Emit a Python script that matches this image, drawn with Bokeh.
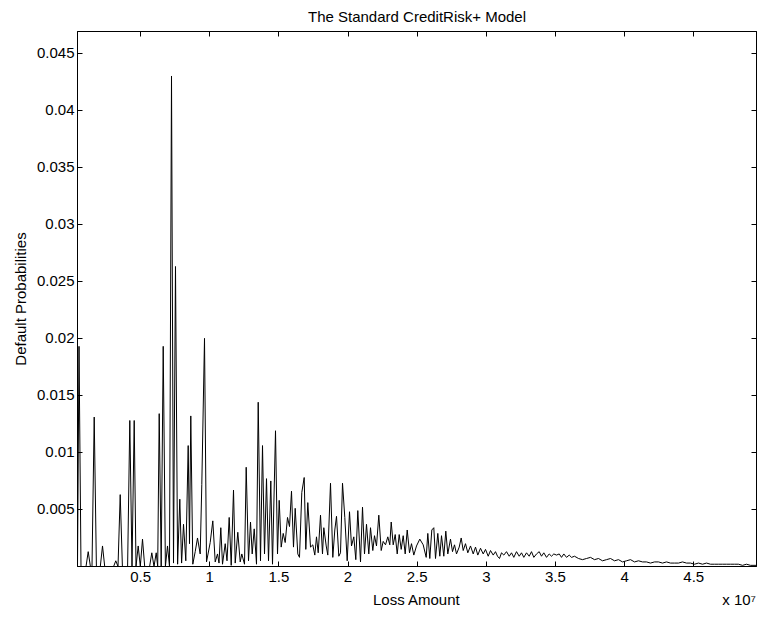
from bokeh.plotting import figure
from bokeh.models import LinearAxis, FixedTicker, Range1d, NumeralTickFormatter
from bokeh.embed import file_html
from bokeh.resources import INLINE

# Loss amount in units of 10^7
loss_amount = [
    0.0441, 0.0550, 0.0694, 0.1056, 0.1215, 0.1374, 0.1490, 0.1649, 0.1808, 0.2090,
    0.2249, 0.2408, 0.3051, 0.3210, 0.3370, 0.3529, 0.3688, 0.4064, 0.4223, 0.4382,
    0.4541, 0.4671, 0.4830, 0.4982, 0.5141, 0.5300, 0.5654, 0.5814, 0.5973, 0.6132,
    0.6240, 0.6349, 0.6493, 0.6638, 0.6797, 0.6949, 0.7093, 0.7238, 0.7383, 0.7527,
    0.7679, 0.7838, 0.7968, 0.8106, 0.8272, 0.8445, 0.8540, 0.8633, 0.8778, 0.8952,
    0.9118, 0.9313, 0.9429, 0.9624, 0.9769, 1.0036, 1.0224, 1.0398, 1.0564, 1.0673,
    1.0803, 1.0926, 1.1121, 1.1251, 1.1410, 1.1555, 1.1721, 1.1844, 1.2032, 1.2205,
    1.2321, 1.2517, 1.2639, 1.2806, 1.2950, 1.3073, 1.3218, 1.3384, 1.3507, 1.3673,
    1.3818, 1.3963, 1.4107, 1.4252, 1.4418, 1.4541, 1.4758, 1.4903, 1.5025, 1.5170,
    1.5315, 1.5459, 1.5626, 1.5770, 1.5915, 1.6059, 1.6182, 1.6370, 1.6493, 1.6660,
    1.6833, 1.6949, 1.7094, 1.7289, 1.7455, 1.7600, 1.7722, 1.7846, 1.8012, 1.8156,
    1.8250, 1.8424, 1.8540, 1.8735, 1.8901, 1.9046, 1.9169, 1.9335, 1.9458, 1.9603,
    1.9769, 1.9942, 2.0109, 2.0253, 2.0420, 2.0564, 2.0709, 2.0904, 2.1049, 2.1193,
    2.1338, 2.1504, 2.1627, 2.1793, 2.1917, 2.2061, 2.2227, 2.2401, 2.2545, 2.2712,
    2.2878, 2.3023, 2.3124, 2.3268, 2.3413, 2.3558, 2.3702, 2.3847, 2.3991, 2.4136,
    2.4281, 2.4447, 2.4592, 2.4758, 2.4953, 2.5192, 2.5437, 2.5654, 2.5770, 2.5915,
    2.6060, 2.6204, 2.6327, 2.6493, 2.6638, 2.6761, 2.6927, 2.7072, 2.7216, 2.7411,
    2.7556, 2.7701, 2.7846, 2.8041, 2.8185, 2.8330, 2.8496, 2.8663, 2.8858, 2.9053,
    2.9219, 2.9386, 2.9581, 2.9776, 2.9942, 3.0138, 3.0304, 3.0499, 3.0665, 3.0810,
    3.0955, 3.1099, 3.1266, 3.1461, 3.1656, 3.1823, 3.1989, 3.2184, 3.2379, 3.2546,
    3.2712, 3.2908, 3.3103, 3.3269, 3.3436, 3.3631, 3.3826, 3.3992, 3.4159, 3.4354,
    3.4549, 3.4716, 3.4882, 3.5077, 3.5273, 3.5439, 3.5605, 3.5801, 3.5996, 3.6162,
    3.6379, 3.6667, 3.6957, 3.7246, 3.7535, 3.7824, 3.8113, 3.8402, 3.8692, 3.8981,
    3.9270, 3.9559, 3.9848, 4.0138, 4.0427, 4.0716, 4.1005, 4.1294, 4.1584, 4.1873,
    4.2162, 4.2451, 4.2740, 4.3030, 4.3319, 4.3608, 4.3897, 4.4187, 4.4476, 4.4765,
    4.5054, 4.5343, 4.5633, 4.5922, 4.6211, 4.6500, 4.6789, 4.7079, 4.7368, 4.7657,
    4.7946, 4.8236, 4.8525, 4.8814, 4.9103, 4.9537,
]

default_prob = [
    0.0, 0.0193, 0.0, 0.0, 0.0013, 0.0, 0.0, 0.0131, 0.0, 0.0,
    0.0018, 0.0, 0.0, 0.0005, 0.0, 0.0063, 0.0, 0.0, 0.0128, 0.0,
    0.0128, 0.0, 0.0018, 0.0, 0.0024, 0.0, 0.0, 0.0012, 0.0, 0.0012,
    0.0, 0.0134, 0.0, 0.0193, 0.0, 0.0018, 0.0, 0.0430, 0.0003, 0.0263,
    0.0002, 0.0059, 0.0003, 0.0037, 0.0005, 0.0106, 0.0020, 0.0132, 0.0002, 0.0013,
    0.0025, 0.0011, 0.0072, 0.0200, 0.0004, 0.0021, 0.0040, 0.0004, 0.0011, 0.0003,
    0.0034, 0.0002, 0.0020, 0.0005, 0.0043, 0.0001, 0.0067, 0.0003, 0.0030, 0.0004,
    0.0011, 0.0002, 0.0087, 0.0005, 0.0039, 0.0011, 0.0033, 0.0002, 0.0144, 0.0005,
    0.0106, 0.0011, 0.0077, 0.0005, 0.0075, 0.0002, 0.0119, 0.0011, 0.0058, 0.0017,
    0.0029, 0.0021, 0.0043, 0.0035, 0.0066, 0.0017, 0.0051, 0.0011, 0.0008, 0.0065,
    0.0078, 0.0015, 0.0056, 0.0017, 0.0019, 0.0010, 0.0026, 0.0012, 0.0045, 0.0011,
    0.0034, 0.0018, 0.0010, 0.0073, 0.0008, 0.0032, 0.0044, 0.0009, 0.0012, 0.0073,
    0.0043, 0.0005, 0.0048, 0.0018, 0.0026, 0.0006, 0.0049, 0.0004, 0.0052, 0.0011,
    0.0037, 0.0011, 0.0034, 0.0014, 0.0027, 0.0018, 0.0045, 0.0014, 0.0022, 0.0019,
    0.0026, 0.0019, 0.0039, 0.0019, 0.0028, 0.0011, 0.0028, 0.0015, 0.0027, 0.0011,
    0.0032, 0.0012, 0.0020, 0.0010, 0.0018, 0.0024, 0.0019, 0.0008, 0.0029, 0.0007,
    0.0032, 0.0034, 0.0007, 0.0029, 0.0009, 0.0027, 0.0009, 0.0031, 0.0011, 0.0024,
    0.0013, 0.0019, 0.0011, 0.0017, 0.0025, 0.0014, 0.0020, 0.0012, 0.0018, 0.0011,
    0.0017, 0.0010, 0.0016, 0.0011, 0.0015, 0.0009, 0.0014, 0.0010, 0.0013, 0.0009,
    0.0007, 0.0012, 0.0010, 0.0013, 0.0009, 0.0012, 0.0008, 0.0013, 0.0009, 0.0012,
    0.0008, 0.0012, 0.0009, 0.0013, 0.0008, 0.0011, 0.0013, 0.0009, 0.0012, 0.0008,
    0.0011, 0.0009, 0.0011, 0.0010, 0.0011, 0.0008, 0.0011, 0.0008, 0.0010, 0.0008,
    0.0009, 0.0007, 0.0006, 0.0007, 0.0008, 0.0006, 0.0007, 0.0005, 0.0006, 0.0007,
    0.0005, 0.0006, 0.0004, 0.0005, 0.0006, 0.0004, 0.0005, 0.0004, 0.0004, 0.0003,
    0.0004, 0.0004, 0.0003, 0.0004, 0.0003, 0.0003, 0.0003, 0.0004, 0.0003, 0.0003,
    0.0002, 0.0003, 0.0002, 0.0003, 0.0002, 0.0002, 0.0002, 0.0002, 0.0002, 0.0002,
    0.0002, 0.0002, 0.0001, 0.0002, 0.0001, 0.0001,
]

x_ticks = [0.5, 1.0, 1.5, 2.0, 2.5, 3.0, 3.5, 4.0, 4.5]
y_ticks = [0.005, 0.01, 0.015, 0.02, 0.025, 0.03, 0.035, 0.04, 0.045]

x_title = "Loss Amount"
x_scale_note = "x 10\u2077"

FONT = "Liberation Sans"
FS = "15px"
NB = "\u00a0"

p = figure(
    width=758, height=616,
    output_backend="svg", toolbar_location=None,
    x_range=Range1d(0.0441, 4.9537), y_range=Range1d(0.0, 0.0469),
    min_border_left=77, min_border_right=2, min_border_top=31, min_border_bottom=50,
    title="The Standard CreditRisk+ Model",
)
p.title.align = "center"
p.title.vertical_align = "top"
p.title.text_font = FONT
p.title.text_font_size = FS
p.title.text_font_style = "normal"
p.title.text_color = "black"
p.title.standoff = 10

p.line(loss_amount, default_prob, color="black", line_width=1)

p.xgrid.visible = False
p.ygrid.visible = False
p.outline_line_color = "black"
p.outline_line_width = 1
p.background_fill_color = "white"
p.border_fill_color = "white"


def style_axis(ax, ticks, fmt, show_labels=True):
    ax.ticker = FixedTicker(ticks=ticks)
    ax.formatter = NumeralTickFormatter(format=fmt)
    ax.major_tick_in = 5
    ax.major_tick_out = 0
    ax.minor_tick_line_color = None
    ax.axis_line_color = "black"
    ax.major_tick_line_color = "black"
    ax.major_label_text_font = FONT
    ax.major_label_text_font_size = FS if show_labels else "0px"
    ax.major_label_text_color = "black"
    ax.axis_label_text_font = FONT
    ax.axis_label_text_font_size = FS
    ax.axis_label_text_font_style = "normal"
    ax.axis_label_text_color = "black"


xa = p.xaxis[0]
style_axis(xa, x_ticks, "0.[0]")
# "Loss Amount" stays centred; the "x 10^7" note sits at the right end of the axis
xa.axis_label = NB * 71 + x_title + NB * 63 + x_scale_note
xa.major_label_standoff = 5
xa.axis_label_standoff = 6

ya = p.yaxis[0]
style_axis(ya, y_ticks, "0.[000]")
ya.axis_label = "Default Probabilities"
ya.major_label_standoff = 3
ya.axis_label_standoff = 5

top = LinearAxis()
style_axis(top, x_ticks, "0.[0]", show_labels=False)
top.major_label_standoff = 0
top.axis_label_standoff = 0
p.add_layout(top, "above")

right = LinearAxis()
style_axis(right, y_ticks, "0.[000]", show_labels=False)
right.major_label_standoff = 0
right.axis_label_standoff = 0
p.add_layout(right, "right")

open("out.html", "w").write(file_html(p, INLINE))
